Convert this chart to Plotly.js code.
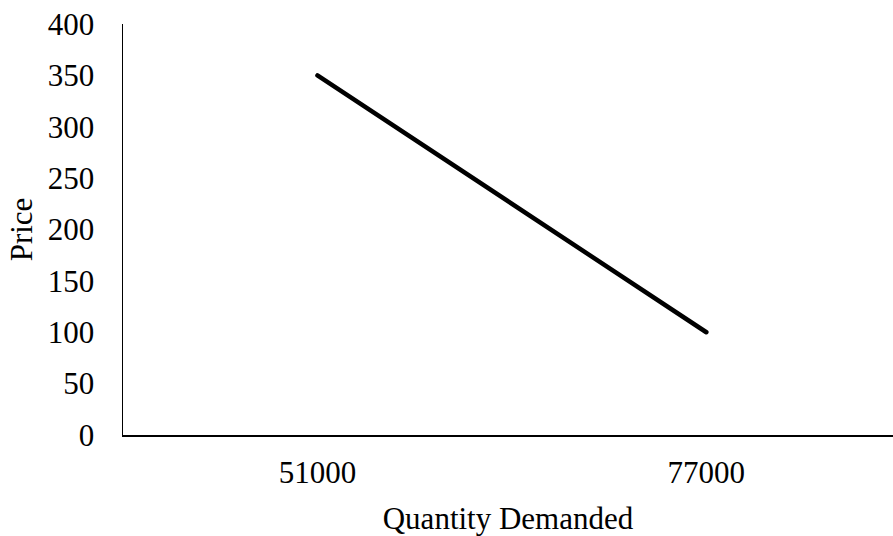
<!DOCTYPE html>
<html>
<head>
<meta charset="utf-8">
<script src="https://cdn.plot.ly/plotly-3.0.1.min.js"></script>
<style>html,body{margin:0;padding:0;background:#fff}#chart{width:893px;height:536px}</style>
</head>
<body>
<div id="chart"></div>
<script>
const quantity = ["51000", "77000"];
const price = [350, 100];
const yTicks = [0, 50, 100, 150, 200, 250, 300, 350, 400];

const font = {family: "Liberation Serif, Times New Roman, serif", size: 31, color: "#000"};

Plotly.newPlot("chart", [{
  x: quantity, y: price, type: "scatter", mode: "lines",
  line: {color: "#000", width: 4.5}
}], {
  width: 893, height: 536,
  margin: {l: 123, r: 0, t: 24, b: 101},
  paper_bgcolor: "#fff", plot_bgcolor: "#fff",
  font: font,
  showlegend: false,
  xaxis: {
    type: "category", range: [-0.5, 1.48],
    showgrid: false, zeroline: false,
    showline: true, linecolor: "#000", linewidth: 1.5,
    ticks: "", tickfont: font, ticklabelstandoff: 9,
    automargin: false,
    title: {text: "Quantity Demanded", font: font, standoff: 25}
  },
  yaxis: {
    range: [0, 400], tickvals: yTicks,
    showgrid: false, zeroline: false,
    showline: true, linecolor: "#000", linewidth: 1.5,
    ticks: "", tickfont: font, ticklabelstandoff: 21,
    automargin: false,
    title: {text: "Price", font: font, standoff: 6}
  }
}, {displayModeBar: false, staticPlot: true}).then(() => {
  document.querySelectorAll("#chart .scatterlayer path.js-line").forEach(p => {
    p.style.strokeLinecap = "round";
    p.style.strokeLinejoin = "round";
  });
});
</script>
</body>
</html>
